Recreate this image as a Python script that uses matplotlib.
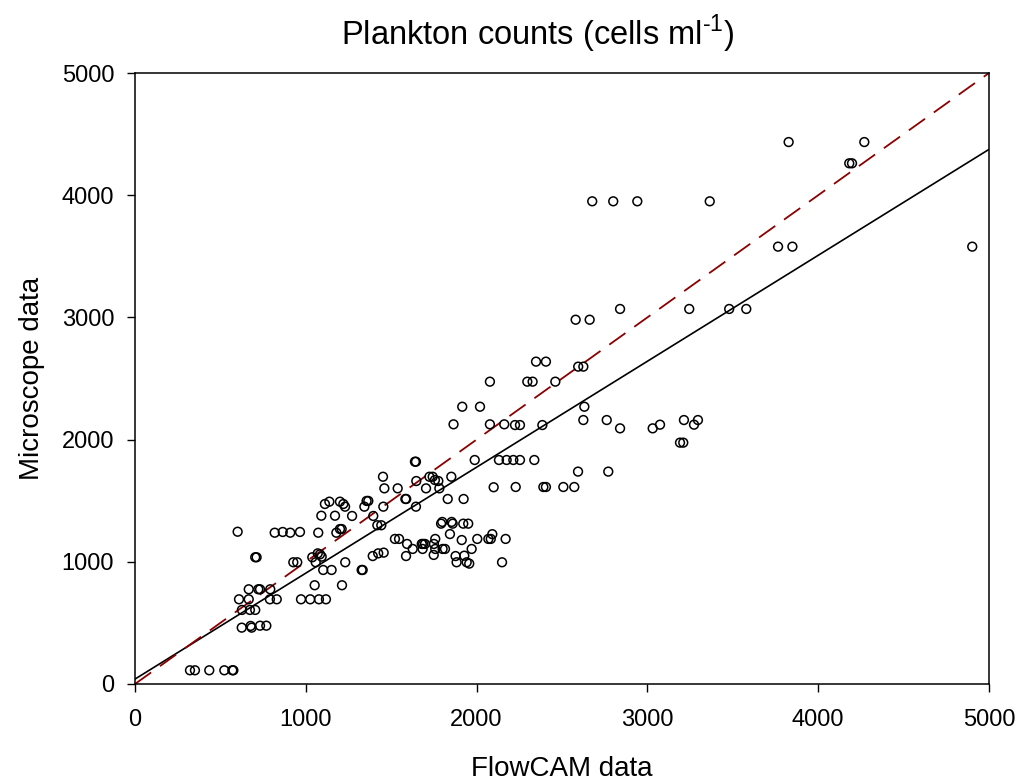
import numpy as np
import matplotlib
matplotlib.use("Agg")
import matplotlib.pyplot as plt

plt.rcParams['font.family'] = ['Liberation Sans', 'DejaVu Sans']
plt.rcParams['mathtext.fontset'] = 'custom'
plt.rcParams['mathtext.rm'] = 'Liberation Sans'

# FlowCAM counts (x) vs microscope counts (y), cells per ml
flowcam = [
    322, 351, 435, 523, 570, 576, 601, 625, 677, 683, 732, 769, 626, 673, 704,
    609, 666, 666, 722, 732, 792, 790, 830, 704, 712, 818, 865, 909, 966, 927,
    950, 972, 1026, 1077, 1118, 1052, 1073, 1038, 1058, 1070, 1083, 1093, 1102, 1151, 1212,
    1231, 1091, 1171, 1179, 1200, 1210, 1112, 1138, 1200, 1230, 1220, 1271,
    1327, 1333, 1392, 1424, 1456, 1343, 1356, 1366, 1395, 1419, 1442, 1452, 1460, 1454,
    1538, 1583, 1588, 1639, 1645, 1647, 1645, 1704, 1724, 1743, 1756, 1776, 1782, 1852,
    1831, 1924, 1989, 2100, 2131, 2176, 1865, 1916, 2020, 2078, 2162, 2078,
    1522, 1546, 1593, 1587, 1626, 1679, 1687, 1698, 1684, 1750, 1758, 1758, 1749, 1801,
    1815, 1792, 1799, 1854, 1860, 1844, 1913, 1922, 1951, 1877, 1883, 1928, 1942, 1957,
    1971, 2004, 2069, 2083, 2092, 2170, 2149,
    2348, 2406, 2595, 2625, 2297, 2328, 2461, 2631, 2225, 2254, 2385, 2625, 2762, 2840,
    3031, 3074, 3214, 3273, 3296, 3191, 3210, 2215, 2254, 2338, 2594, 2771, 2229, 2391,
    2406, 2508, 2572, 2840, 3245, 2580, 2662, 3827, 4270, 4182, 4198, 2677, 2800, 2941,
    3365, 3765, 3849, 4902, 3479, 3579,
]
microscope = [
    112, 112, 112, 112, 112, 112, 1246, 461, 475, 461, 477, 477, 606, 606, 606,
    693, 693, 775, 775, 775, 775, 693, 693, 1037, 1037, 1238, 1244, 1238, 1244, 996,
    996, 693, 693, 693, 693, 808, 1238, 1037, 996, 1069, 1061, 1042, 933, 933, 808,
    996, 1377, 1377, 1238, 1268, 1268, 1473, 1492, 1492, 1451, 1473, 1375,
    933, 933, 1047, 1069, 1075, 1451, 1498, 1498, 1375, 1299, 1299, 1696, 1601, 1451,
    1601, 1514, 1514, 1819, 1819, 1661, 1451, 1601, 1696, 1696, 1669, 1661, 1601, 1696,
    1514, 1514, 1833, 1610, 1833, 1833, 2125, 2269, 2269, 2125, 2125, 2474,
    1187, 1187, 1146, 1047, 1105, 1146, 1146, 1146, 1105, 1146, 1187, 1105, 1056, 1105,
    1105, 1312, 1326, 1326, 1312, 1227, 1178, 1312, 1312, 1047, 996, 1050, 996, 985,
    1105, 1187, 1187, 1187, 1226, 1187, 996,
    2638, 2638, 2597, 2597, 2474, 2474, 2474, 2269, 2119, 2119, 2119, 2160, 2160, 2092,
    2092, 2122, 2160, 2122, 2160, 1975, 1975, 1833, 1833, 1833, 1738, 1738, 1612, 1612,
    1612, 1612, 1612, 3069, 3069, 2981, 2981, 4435, 4435, 4261, 4261, 3950, 3950, 3950,
    3950, 3579, 3579, 3579, 3069, 3069,
]

# fitted regression line and 1:1 line
fit_intercept = 40
fit_slope = 0.867
line_x = [0, 5000]

fig = plt.figure(figsize=(10.18, 7.8), dpi=100)
ax = fig.add_axes([0.1326, 0.1231, 0.8389, 0.7833])

ax.scatter(flowcam, microscope, s=40, facecolors='none', edgecolors='black',
           linewidths=1.1, zorder=3)
ax.plot(line_x, [fit_intercept + fit_slope * v for v in line_x], color='black', lw=1.2)
ax.plot(line_x, line_x, color='#8b0000', lw=1.3, dashes=(11, 6))

ax.set_xlim(0, 5000)
ax.set_ylim(0, 5000)
ax.set_xticks([0, 1000, 2000, 3000, 4000, 5000])
ax.set_yticks([0, 1000, 2000, 3000, 4000, 5000])
ax.tick_params(direction='out', length=6, width=1, labelsize=17, pad=9,
               top=False, right=False)
ax.tick_params(axis='x', pad=12)
for sp in ax.spines.values():
    sp.set_linewidth(1.1)

ax.set_xlabel('FlowCAM data', fontsize=20, labelpad=18)
ax.set_ylabel('Microscope data', fontsize=20, labelpad=12)
ax.set_title('Plankton counts (cells ml$^{\\text{-}1}$)', fontsize=23.5, pad=20, x=0.472)

fig.savefig('out.png', dpi=100)
